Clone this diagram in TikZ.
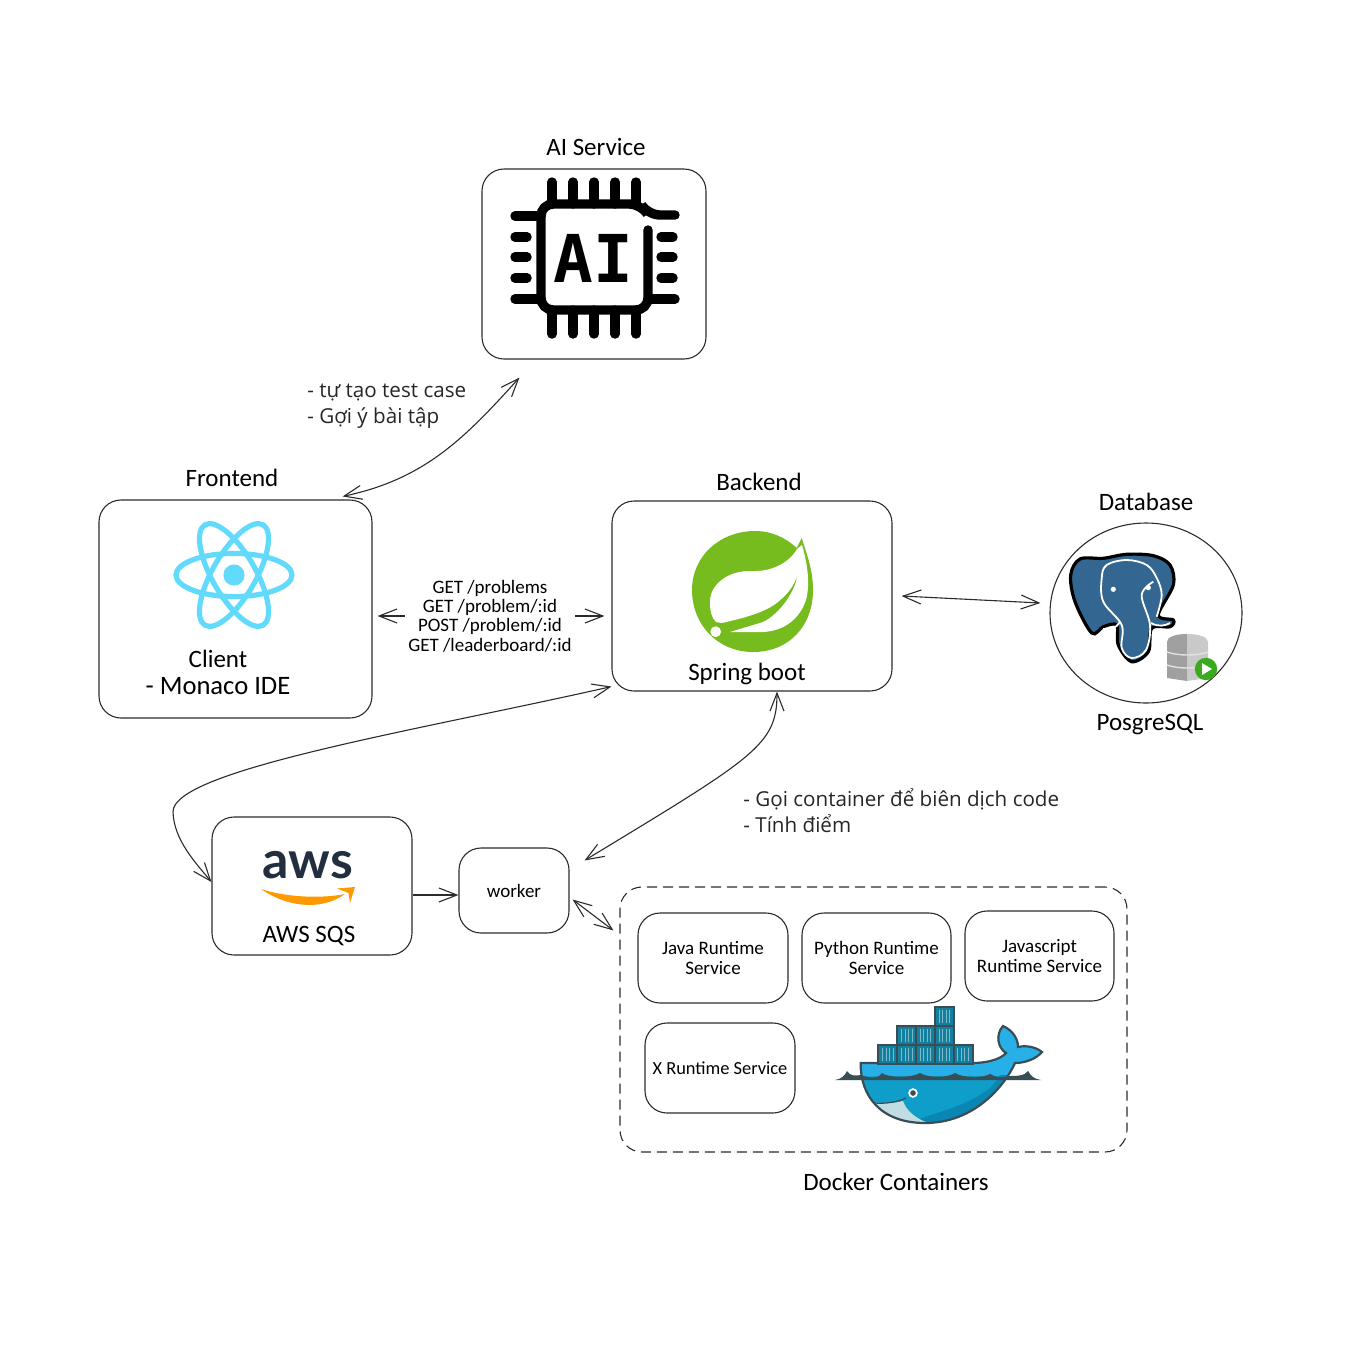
\documentclass[tikz,border=0pt]{standalone}
\usepackage{fontspec}
\usepackage{xcolor}
\usetikzlibrary{shapes.geometric,arrows.meta}

\newfontfamily\handfont{Carlito}
\newfontfamily\notefont{Open Sans}
\newfontfamily\chipfont{DejaVu Sans Mono}
\newfontfamily\awsfont{Lato}

\definecolor{inkline}{HTML}{2B2B2B}
\definecolor{reactblue}{HTML}{61DAFB}
\definecolor{springgreen}{HTML}{77BC1F}
\definecolor{pgblue}{HTML}{336791}
\definecolor{awsnavy}{HTML}{232F3E}
\definecolor{awsorange}{HTML}{FF9900}
\definecolor{dockerdark}{HTML}{394D54}
\definecolor{dockerlight}{HTML}{27B0E8}
\definecolor{dockermid}{HTML}{0F9DC9}
\definecolor{dockerdeep}{HTML}{0A86B3}
\definecolor{dockerbelly}{HTML}{BFDDE3}
\definecolor{dockercrate}{HTML}{14809F}
\definecolor{dbdark}{HTML}{A0A0A0}
\definecolor{dblight}{HTML}{C9C9C9}
\definecolor{playgreen}{HTML}{3AAA1E}

\tikzset{
	box/.style={draw=inkline, line width=0.55pt, rounded corners=11pt, inner sep=0pt},
	title/.style={font=\handfont\fontsize{12.5}{14}\selectfont, text=black, inner sep=1pt},
	small/.style={font=\handfont\fontsize{9.5}{10}\selectfont, text=black, align=center},
	note/.style={font=\notefont\fontsize{10.3}{13}\selectfont, text=black!85, align=left, anchor=west, inner sep=0pt},
	link/.style={draw=inkline, line width=0.55pt},
	chipline/.style={line width=4.7pt, line cap=round},
	crate/.style={draw=dockerdark, line width=0.9pt, fill=dockercrate},
}
\newcommand{\cratebox}[2]{
	\draw[crate] (#1,#2) rectangle ++(19,19);
	\draw[white!45!dockercrate, line width=0.3pt] (#1+4,#2+3) -- ++(0,13) (#1+7.5,#2+3) -- ++(0,13) (#1+11,#2+3) -- ++(0,13) (#1+14.5,#2+3) -- ++(0,13);
}

\begin{document}
\begin{tikzpicture}[x=0.5pt, y=-0.5pt, >={Straight Barb[length=9pt,width=7pt]}]
	\useasboundingbox (0,0) rectangle (1350,1350);

	\node[box, minimum width=112pt, minimum height=95pt] (ai) at (594,264) {};
	\node[box, minimum width=136.5pt, minimum height=109pt] (frontend) at (235.5,609) {};
	\node[box, minimum width=140pt, minimum height=95pt] (backend) at (752,596) {};
	\node[draw=inkline, line width=0.55pt, ellipse, minimum width=96pt, minimum height=90pt, inner sep=0pt] (database) at (1146,613) {};
	\node[box, minimum width=100pt, minimum height=69pt] (sqs) at (312,886) {};
	\node[box, small, minimum width=55pt, minimum height=42.5pt] (worker) at (514,890.5) {worker};
	\node[box, dashed, dash pattern=on 5pt off 3pt, minimum width=253.5pt, minimum height=132.5pt] (docker) at (873.5,1019.5) {};

	\node[box, small, minimum width=75pt, minimum height=45pt] (java) at (713,958) {Java Runtime\\Service};
	\node[box, small, minimum width=74.5pt, minimum height=45pt] (python) at (876.5,958) {Python Runtime\\Service};
	\node[box, small, minimum width=74.5pt, minimum height=45pt] (jsrt) at (1039.5,956) {Javascript\\Runtime Service};
	\node[box, small, minimum width=75pt, minimum height=45pt, font=\handfont\fontsize{9.2}{10}\selectfont] (xrt) at (720,1068) {X Runtime Service};

	\node[title] (aititle) at (596,147) {AI Service};
	\node[title] (fronttitle) at (232,478) {Frontend};
	\node[title] (backtitle) at (759,482) {Backend};
	\node[title] (dbtitle) at (1146,502) {Database};
	\node[title] (pgtitle) at (1150,725) {PosgreSQL};
	\node[title] (client) at (218,659) {Client};
	\node[title, font=\handfont\fontsize{13.3}{14}\selectfont] (monaco) at (218,686) {- Monaco IDE};
	\node[title] (spring) at (747,674) {Spring boot};
	\node[title] (sqstitle) at (309,936) {AWS SQS};
	\node[title] (dockertitle) at (896,1182) {Docker Containers};

	\node[font=\handfont\fontsize{9.5}{9.6}\selectfont, align=center, inner sep=1.5pt] (api) at (490,616) {GET /problems\\GET /problem/:id\\POST /problem/:id\\GET /leaderboard/:id};
	\node[note] (ainote) at (307,406) {- tự tạo test case\\- Gợi ý bài tập};
	\node[note] (runnote) at (743,811) {- Gọi container để biên dịch code\\- Tính điểm};

	\draw[chipline, rounded corners=6pt] (648,230) -- (648,310) -- (541,310) -- (541,204) -- (641,204) -- (648,215) -- (675,215);
	\draw[chipline] (552,182) -- (552,204) (573,182) -- (573,204) (594,182) -- (594,204) (615,182) -- (615,204) (636,182) -- (636,204);
	\draw[chipline] (552,310) -- (552,334) (573,310) -- (573,334) (594,310) -- (594,334) (615,310) -- (615,334) (636,310) -- (636,334);
	\draw[chipline] (515,216) -- (541,216) (515,299) -- (541,299) (648,299) -- (675,299);
	\draw[chipline] (515,237) -- (527,237) (515,257) -- (527,257) (515,278) -- (527,278);
	\draw[chipline] (661,237) -- (673,237) (661,257) -- (673,257) (661,278) -- (673,278);
	\node[font=\chipfont\bfseries\fontsize{33}{33}\selectfont, inner sep=0pt] (chiptext) at (593,258) {AI};

	\draw[reactblue, line width=2.6pt] (234,575) ellipse [x radius=29pt, y radius=10.8pt];
	\draw[reactblue, line width=2.6pt] (234,575) ellipse [x radius=29pt, y radius=10.8pt, rotate=60];
	\draw[reactblue, line width=2.6pt] (234,575) ellipse [x radius=29pt, y radius=10.8pt, rotate=-60];
	\fill[reactblue] (234,575) circle [radius=5.3pt];

	\fill[springgreen] (801.7,538) .. controls (807,555) and (813,570) .. (813,590) .. controls (813,625) and (790,652) .. (753,652) .. controls (718,652) and (692,625) .. (692,590) .. controls (692,556) and (720,531) .. (755,531) .. controls (772,531) and (786,538) .. (796.7,548) -- cycle;
	\fill[white] (797,549) .. controls (790,562) and (772,572) .. (752,571) .. controls (728,570) and (709,585) .. (710,603) .. controls (710,612) and (712,618) .. (716,622) -- (721.7,623) .. controls (745,618) and (765,612) .. (776.7,603) .. controls (787,595) and (794,586) .. (797,576) .. controls (796,590) and (780,614) .. (763,622) -- (730,632) -- (763,632) .. controls (785,631) and (800,618) .. (806,600) .. controls (810,585) and (808,565) .. (802,545) -- cycle;
	\fill[white] (715.7,631.7) circle [radius=2.7pt];

	\fill[draw=black, line width=1.6pt, fill=pgblue] plot[smooth cycle, tension=0.55] coordinates {(1080,559) (1070.7,575) (1075,601.7) (1091.7,633) (1103.3,626.7) (1116.7,625) (1118.3,645) (1131.7,661.7) (1148.3,651.7) (1151.7,628.3) (1170,626.7) (1173.3,620) (1158.3,615) (1173.3,585) (1170,565) (1153.3,555.7) (1126.7,554.3) (1103.3,558.3)};
	\draw[white, line width=0.9pt] plot[smooth, tension=0.6] coordinates {(1156.7,616.7) (1161.7,595) (1156.7,578) (1146.7,565) (1126.7,560) (1106.7,565) (1101.7,578.3) (1103.3,601.7) (1121.7,625) (1121.7,648) (1131.7,658) (1146,650) (1150,625) (1141.7,595) (1153.3,581.7)};
	\draw[white, line width=0.9pt] (1103,629) .. controls (1110,631) and (1116,628) .. (1120,622) (1151,623) .. controls (1158,627) and (1165,626) .. (1170,623);
	\fill[white] (1113.3,589.3) circle [radius=1.3pt] (1148.3,587.7) circle [radius=1.3pt];

	\fill[dbdark] (1167,642) -- (1167,678) -- (1187,681) -- (1187,634) .. controls (1175,634) and (1167,637) .. (1167,642) -- cycle;
	\fill[dblight] (1208,642) -- (1208,678) -- (1187,681) -- (1187,634) .. controls (1199,634) and (1208,637) .. (1208,642) -- cycle;
	\draw[white!70!dbdark, line width=0.7pt] (1167,652) .. controls (1178,656) and (1197,656) .. (1208,652) (1167,665) .. controls (1178,669) and (1197,669) .. (1208,665);
	\fill[playgreen] (1206,669) circle [radius=5.6pt];
	\fill[white] (1202,663) -- (1212,669) -- (1202,675) -- cycle;

	\node[font=\awsfont\bfseries\fontsize{26}{26}\selectfont, text=awsnavy, inner sep=0pt] (awstext) at (308,865) {aws};
	\fill[awsorange] (261,889) .. controls (285,906) and (320,912) .. (345,894) .. controls (320,899) and (285,897) .. (261,889) -- cycle;
	\fill[awsorange] (337,888.5) -- (355,887) -- (350,903) -- (348.5,893) -- cycle;

	\begin{scope}
		\clip (860.7,1063) -- (973,1063) .. controls (985,1063) and (1000,1060) .. (1006,1053) .. controls (998,1048) and (995,1035) .. (1003,1026) .. controls (1012,1030) and (1018,1038) .. (1018,1047) .. controls (1026,1045) and (1036,1047) .. (1042,1052) .. controls (1036,1059) and (1025,1063) .. (1015,1063) .. controls (1005,1085) and (975,1123) .. (925,1123) .. controls (880,1123) and (860,1095) .. (860.7,1063) -- cycle;
		\fill[dockermid] (850,1020) rectangle (1050,1130);
		\fill[dockerlight] (850,1020) rectangle (1050,1076);
		\fill[dockerdeep] (890,1130) .. controls (930,1112) and (985,1105) .. (1000,1075) -- (1050,1075) -- (1050,1130) -- cycle;
		\fill[dockerbelly] (870,1102) .. controls (885,1104) and (895,1103) .. (903,1101) .. controls (906,1110) and (915,1118) .. (926,1122) .. controls (900,1125) and (880,1118) .. (870,1102) -- cycle;
	\end{scope}
	\fill[dockerdark] (835,1080) .. controls (842,1079) and (845,1075) .. (847,1071) .. controls (850,1076) and (855,1076) .. (861,1075) .. controls (870,1079) and (880,1078) .. (882,1073) .. controls (888,1078) and (912,1078) .. (920,1073) .. controls (928,1078) and (948,1078) .. (955,1073) .. controls (962,1078) and (984,1078) .. (990,1074) .. controls (996,1078) and (1004,1078) .. (1008,1076) .. controls (1016,1076) and (1025,1076) .. (1028,1071) .. controls (1031,1076) and (1034,1079) .. (1041,1080) -- cycle;
	\draw[dockerdark, line width=1.1pt] (860.7,1063) -- (973,1063) .. controls (985,1063) and (1000,1060) .. (1006,1053) .. controls (998,1048) and (995,1035) .. (1003,1026) .. controls (1012,1030) and (1018,1038) .. (1018,1047) .. controls (1026,1045) and (1036,1047) .. (1042,1052) .. controls (1036,1059) and (1025,1063) .. (1015,1063) .. controls (1005,1085) and (975,1123) .. (925,1123) .. controls (880,1123) and (860,1095) .. (860.7,1063) -- cycle;
	\draw[dockerdark, line width=0.6pt] (875,1103) .. controls (885,1104) and (898,1102) .. (906,1098);
	\fill[white] (913,1093) circle [radius=2.4pt];
	\fill[dockerdark] (913,1093) circle [radius=1.4pt];
	\cratebox{878.3}{1044.7}
	\cratebox{897.3}{1044.7}
	\cratebox{916}{1044.7}
	\cratebox{935}{1044.7}
	\cratebox{953.6}{1044.7}
	\cratebox{897.3}{1026}
	\cratebox{916}{1026}
	\cratebox{935}{1026}
	\cratebox{935}{1007}

	\coordinate (sqsbend) at (173,812);

	\draw[<->, link] ([xshift=-15pt,yshift=1.5pt]frontend.north east) to [out=12, in=228] ([xshift=19pt,yshift=-9pt]ai.south west);
	\draw[->, link] (api.west) to ([xshift=2.5pt]frontend.east |- api.west);
	\draw[->, link] (api.east) to ([xshift=-3.5pt]backend.west |- api.east);
	\draw[<->, link] ([xshift=4.5pt]backend.east) to ([xshift=-4.5pt,yshift=5pt]database.west);
	\draw[<->, link] ([yshift=2.5pt]backend.south west) .. controls (420,730) and (172,770) .. (sqsbend) .. controls (174,840) and (195,862) .. ([yshift=2pt]sqs.west);
	\draw[<->, link] ([xshift=12.5pt]backend.south) .. controls (777,745) and (755,757) .. ([xshift=7.5pt,yshift=-6.5pt]worker.north east);
	\draw[->, link] ([yshift=-4.5pt]sqs.east) to ([yshift=-2.25pt]worker.west);
	\draw[<->, link] ([xshift=1.5pt,yshift=-4.5pt]worker.east) to ([xshift=-3pt,yshift=-22pt]docker.north west);
\end{tikzpicture}
\end{document}
